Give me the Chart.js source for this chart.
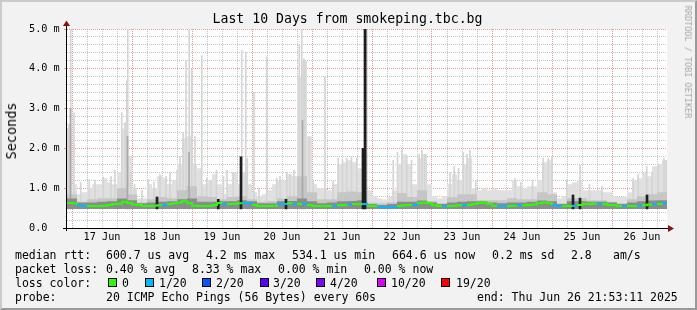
<!DOCTYPE html>
<html><head><meta charset="utf-8">
<script src="https://cdn.jsdelivr.net/npm/chart.js@4.4.1/dist/chart.umd.min.js"></script>
<style>
body{margin:0;background:#f2f2f2}
#box{position:relative;width:697px;height:310px;background:#f2f2f2;overflow:hidden}
#box canvas{position:absolute;left:0;top:0}
.t{position:absolute;white-space:pre;font-family:'DejaVu Sans Mono',monospace;color:#000}
.lg{font-size:11.5px;line-height:14px}
.sw{position:absolute;width:7px;height:7px;border:1px solid #000;top:278px}
#frame{position:absolute;left:0;top:0;width:697px;height:310px;box-sizing:border-box;border:2px solid;border-color:#cbcbcb #999 #999 #cbcbcb;pointer-events:none}
</style></head>
<body><div id="box">
<canvas id="c" width="697" height="310"></canvas>
<div class="t" style="left:-1px;width:697px;text-align:center;top:11px;font-size:13.2px;line-height:16px">Last 10 Days from smokeping.tbc.bg</div>
<div class="t" style="left:11px;top:131px;font-size:13.5px;transform:translate(-50%,-50%) rotate(-90deg)">Seconds</div>
<div class="t" style="left:688px;top:62px;font-size:8.5px;color:#a8a8a8;transform:translate(-50%,-50%) rotate(90deg)">RRDTOOL / TOBI OETIKER</div>

<div class="t lg" style="left:15px;top:248px">median rtt:</div>
<div class="t lg" style="left:106px;top:248px">600.7 us avg</div>
<div class="t lg" style="left:206px;top:248px">4.2 ms max</div>
<div class="t lg" style="left:292px;top:248px">534.1 us min</div>
<div class="t lg" style="left:392px;top:248px">664.6 us now</div>
<div class="t lg" style="left:492px;top:248px">0.2 ms sd</div>
<div class="t lg" style="left:571px;top:248px">2.8</div>
<div class="t lg" style="left:613px;top:248px">am/s</div>

<div class="t lg" style="left:15px;top:262px">packet loss:</div>
<div class="t lg" style="left:106px;top:262px">0.40 % avg</div>
<div class="t lg" style="left:192px;top:262px">8.33 % max</div>
<div class="t lg" style="left:278px;top:262px">0.00 % min</div>
<div class="t lg" style="left:364px;top:262px">0.00 % now</div>

<div class="t lg" style="left:15px;top:276px">loss color:</div>
<div class="sw" style="left:108px;background:#26ff00"></div><div class="t lg" style="left:122px;top:276px">0</div>
<div class="sw" style="left:145px;background:#00b8ff"></div><div class="t lg" style="left:159px;top:276px">1/20</div>
<div class="sw" style="left:202px;background:#0059ff"></div><div class="t lg" style="left:216px;top:276px">2/20</div>
<div class="sw" style="left:260px;background:#5e00ff"></div><div class="t lg" style="left:273px;top:276px">3/20</div>
<div class="sw" style="left:316px;background:#7e00ff"></div><div class="t lg" style="left:330px;top:276px">4/20</div>
<div class="sw" style="left:377px;background:#dd00ff"></div><div class="t lg" style="left:391px;top:276px">10/20</div>
<div class="sw" style="left:441px;background:#ff0000"></div><div class="t lg" style="left:456px;top:276px">19/20</div>

<div class="t lg" style="left:15px;top:290px">probe:</div>
<div class="t lg" style="left:106px;top:290px">20 ICMP Echo Pings (56 Bytes) every 60s</div>
<div class="t lg" style="left:477px;top:290px">end: Thu Jun 26 21:53:11 2025</div>
<div id="frame"></div>
</div>
<script>
// hours since Jun 16 22:00, 240 h window
const dayLabels=['17 Jun','18 Jun','19 Jun','20 Jun','21 Jun','22 Jun','23 Jun','24 Jun','25 Jun','26 Jun'];
const yLabels=['0.0','1.0 m','2.0 m','3.0 m','4.0 m','5.0 m'];
const lossColors=['#26ff00','#00b8ff','#0059ff','#5e00ff','#7e00ff','#dd00ff','#ff0000'];
const smokeFloor=0.48;

// 2 h bins
const median=[0.63,0.62,0.57,0.55,0.55,0.55,0.55,0.56,0.58,0.60,
 0.61,0.66,0.63,0.59,0.58,0.55,0.55,0.56,0.57,0.57,
 0.60,0.62,0.64,0.67,0.62,0.56,0.55,0.55,0.55,0.58,
 0.63,0.60,0.60,0.60,0.62,0.63,0.62,0.58,0.55,0.55,
 0.55,0.56,0.60,0.60,0.62,0.60,0.60,0.61,0.58,0.55,
 0.55,0.55,0.55,0.56,0.57,0.58,0.60,0.60,0.60,0.60,
 0.56,0.55,0.54,0.52,0.52,0.53,0.55,0.57,0.58,0.58,
 0.62,0.64,0.62,0.57,0.55,0.55,0.55,0.56,0.57,0.57,
 0.58,0.60,0.63,0.64,0.60,0.56,0.55,0.55,0.55,0.56,
 0.57,0.57,0.58,0.59,0.62,0.64,0.62,0.57,0.55,0.55,
 0.55,0.56,0.58,0.60,0.60,0.61,0.61,0.60,0.58,0.57,
 0.55,0.55,0.55,0.55,0.56,0.57,0.59,0.60,0.60,0.62];
const loss=[0,0,1,1,0,0,0,0,0,0, 0,0,0,0,0,0,0,0,0,1, 0,0,0,0,0,0,0,0,0,0,
 0,1,0,0,0,1,1,0,0,0, 0,0,1,1,0,1,0,1,0,0, 0,0,0,1,0,0,1,0,0,1,
 0,0,1,1,1,1,0,0,0,1, 0,0,0,0,0,1,0,0,0,1, 0,0,0,0,0,0,1,1,0,0,
 1,0,0,0,0,0,0,1,1,0, 0,1,0,0,0,0,1,0,0,0, 0,1,0,0,1,0,0,1,0,1];
const smokeMax=[2.5,1.1,0.85,0.9,1.0,1.1,1.1,1.25,1.15,1.1,
 1.4,2.5,1.8,1.0,0.75,0.75,1.1,1.0,1.3,1.25,
 1.1,1.2,1.6,2.25,2.3,1.6,1.5,1.1,1.2,1.35,
 1.1,0.85,1.1,1.4,1.1,1.4,1.1,0.9,0.8,0.85,
 0.95,1.1,1.2,1.2,1.35,1.3,3.8,4.2,2.3,1.1,
 1.0,1.0,0.95,1.1,1.6,1.65,1.7,1.65,1.5,1.3,
 0.95,0.8,0.75,0.72,0.78,0.95,1.6,1.85,1.6,1.1,
 1.75,1.85,1.1,0.8,0.75,0.8,1.1,1.35,1.2,1.6,
 1.75,1.0,0.95,1.0,0.95,1.0,0.95,0.95,0.95,1.2,
 1.05,1.0,1.05,1.05,1.2,1.65,1.7,0.9,0.75,0.8,
 1.1,1.15,1.2,0.95,0.95,0.95,0.95,0.9,0.9,0.8,
 0.78,0.78,0.9,1.2,1.25,1.4,1.3,1.55,1.6,1.7];
// 4 h bins
const smokeMid=[0.85,0.66,0.72,0.75,0.75,1.0,0.85,0.64,0.72,0.78,
 0.75,0.95,1.05,0.8,0.78,0.72,0.78,0.8,0.72,0.66,
 0.68,0.74,0.8,1.3,0.9,0.72,0.72,0.9,0.92,0.9,
 0.64,0.62,0.65,0.88,0.78,0.95,0.68,0.62,0.78,0.85,
 0.85,0.7,0.7,0.7,0.75,0.72,0.72,0.9,0.85,0.62,
 0.75,0.75,0.7,0.7,0.66,0.62,0.72,0.8,0.85,0.9];
const smokeDark=[0.74,0.64,0.64,0.66,0.67,0.74,0.7,0.62,0.64,0.66,
 0.67,0.72,0.74,0.66,0.66,0.67,0.67,0.7,0.67,0.62,
 0.62,0.67,0.68,0.74,0.67,0.62,0.64,0.67,0.68,0.7,
 0.6,0.58,0.6,0.66,0.66,0.69,0.64,0.6,0.64,0.66,
 0.67,0.67,0.64,0.62,0.64,0.64,0.66,0.69,0.67,0.6,
 0.67,0.67,0.66,0.66,0.64,0.6,0.64,0.67,0.69,0.7];
// single thin spikes
const spikeHours=[0.2,0.8,1.5,2.8,5.5,8.9,11.2,14.5,17.6,19.2,21.9,23.2,23.9,24.3,25.5,27.0,30.0,32.5,34.8,37.2,39.6,41.2,
 44.0,45.2,46.5,47.6,48.9,49.9,51.2,53.9,55.9,57.5,59.8,62.6,64.0,
 66.5,69.9,71.5,72.1,74.8,76.8,79.9,83.9,85.2,87.9,89.2,90.8,92.9,93.9,94.8,95.2,96.9,98.5,103.2,106.5,108.5,110.2,111.9,113.8,115.9,
 130.5,132.2,133.9,135.9,137.8,140.9,142.0,143.2,153.2,154.9,156.6,158.5,160.0,161.2,163.5,
 179.2,181.5,186.2,190.5,192.5,194.0,199.9,205.2,209.0,214.0,226.5,228.5,231.9,234.0,236.5,238.8,239.6];
const spikeTops=[2.5,2.6,4.97,2.9,1.15,1.22,1.2,1.28,1.3,1.45,2.9,2.65,3.7,5.0,1.4,1.1,0.95,1.22,1.15,1.35,1.3,1.4,
 1.45,1.8,2.4,4.2,5.0,4.0,2.3,4.33,1.25,1.2,1.45,1.3,1.45,
 1.4,4.47,4.42,1.75,3.4,1.0,4.3,1.25,1.3,1.4,1.35,1.45,4.6,5.0,4.25,4.17,2.3,1.2,3.8,1.2,1.75,1.7,1.75,1.8,1.75,
 1.7,1.9,1.95,1.8,1.7,1.85,1.95,1.85,1.4,1.55,1.5,1.9,1.85,1.95,1.2,
 1.25,1.15,1.2,1.75,1.75,1.8,1.22,1.58,1.1,1.05,1.25,1.35,1.55,1.4,1.6,1.75,1.7];
const greyHours=[1.4,24.2,48.8,94.2,119.8];
const greyTops=[3.0,2.3,1.9,2.7,5.0];
const blackHours=[36,60.5,69.6,87.6,118.4,119.2,202.4,205.2,232];
const blackTops=[0.78,0.72,1.79,0.72,2.0,5.0,0.83,0.75,0.83];

const steps=(a,w)=>a.map((v,i)=>({x:i*w,y:v})).concat([{x:a.length*w,y:a[a.length-1]}]);
const bars=(hs,ts)=>hs.map((h,i)=>({x:h,y:[smokeFloor,ts[i]]}));
const xTicks=[];for(let h=2;h<240;h+=6)xTicks.push(h);
const major='rgba(232,120,120,0.75)', minor='rgba(160,160,160,0.6)';
const font={family:'DejaVu Sans Mono',size:10.2};

const frame={id:'frame',
 beforeDraw(c){const a=c.chartArea,x=c.ctx;x.fillStyle='#fff';x.fillRect(a.left,a.top,a.right-a.left,a.bottom-a.top)},
 afterDraw(c){const a=c.chartArea,x=c.ctx,ax=a.left-0.5,ay=a.bottom+0.5;
  x.save();x.strokeStyle='#000';x.lineWidth=1;
  x.beginPath();x.moveTo(ax,a.bottom+3);x.lineTo(ax,a.top-4);x.stroke();
  x.beginPath();x.moveTo(a.left-4,ay);x.lineTo(a.right+2,ay);x.stroke();
  x.fillStyle='#8b1010';
  x.beginPath();x.moveTo(ax-3.5,a.top-3);x.lineTo(ax+3.5,a.top-3);x.lineTo(ax,a.top-8.5);x.fill();
  x.beginPath();x.moveTo(a.right+1,ay-3.5);x.lineTo(a.right+1,ay+3.5);x.lineTo(a.right+7,ay);x.fill();
  x.restore();}};

new Chart(document.getElementById('c'),{
 type:'line',
 data:{datasets:[
  {data:steps(median,2),stepped:true,borderWidth:2,pointRadius:0,order:1,
   segment:{borderColor:s=>lossColors[loss[s.p0DataIndex]]}},
  {type:'bar',data:bars(blackHours,blackTops),backgroundColor:'#1e1e1e',barThickness:2,grouped:false,order:2},
  {data:steps(smokeDark,4),stepped:true,fill:{value:smokeFloor},backgroundColor:'#8c8c8c',borderWidth:0,borderColor:'rgba(0,0,0,0)',pointRadius:0,order:3},
  {type:'bar',data:bars(greyHours,greyTops),backgroundColor:'#a8a8a8',barThickness:1,grouped:false,order:4},
  {data:steps(smokeMid,4),stepped:true,fill:{value:smokeFloor},backgroundColor:'#c6c6c6',borderWidth:0,borderColor:'rgba(0,0,0,0)',pointRadius:0,order:5},
  {type:'bar',data:bars(spikeHours,spikeTops),backgroundColor:'#d4d4d4',barThickness:1,grouped:false,order:6},
  {data:steps(smokeMax,2),stepped:true,fill:{value:smokeFloor},backgroundColor:'#e0e0e0',borderWidth:0,borderColor:'rgba(0,0,0,0)',pointRadius:0,order:7}
 ]},
 options:{responsive:false,animation:false,events:[],
  layout:{autoPadding:false,padding:{left:29,top:29,right:30,bottom:0}},
  plugins:{legend:{display:false},tooltip:{enabled:false}},
  scales:{
   x:{type:'linear',min:0,max:240,offset:false,
    afterBuildTicks:s=>{s.ticks=xTicks.map(v=>({value:v}))},
    afterFit:s=>{s.height=82},
    grid:{offset:false,drawTicks:false,color:c=>(c.tick.value-2)%24===0?major:minor},
    border:{display:false,dash:[1,1]},
    ticks:{autoSkip:false,maxRotation:0,minRotation:0,padding:3,color:'#000',font,
     callback:v=>(v-2)%24===12?dayLabels[(v-14)/24]:''}},
   y:{min:0,max:5,
    afterBuildTicks:s=>{s.ticks=Array.from({length:26},(_,i)=>({value:i/5}))},
    afterFit:s=>{s.width=38},
    grid:{tickLength:3,color:c=>Number.isInteger(c.tick.value)?major:minor,
     tickColor:c=>Number.isInteger(c.tick.value)?major:'rgba(0,0,0,0)'},
    border:{display:false,dash:[1,1]},
    ticks:{autoSkip:false,crossAlign:'far',color:'#000',font,
     callback:v=>Number.isInteger(v)?yLabels[v]:''}}
  }},
 plugins:[frame]
});
</script>
</body></html>
